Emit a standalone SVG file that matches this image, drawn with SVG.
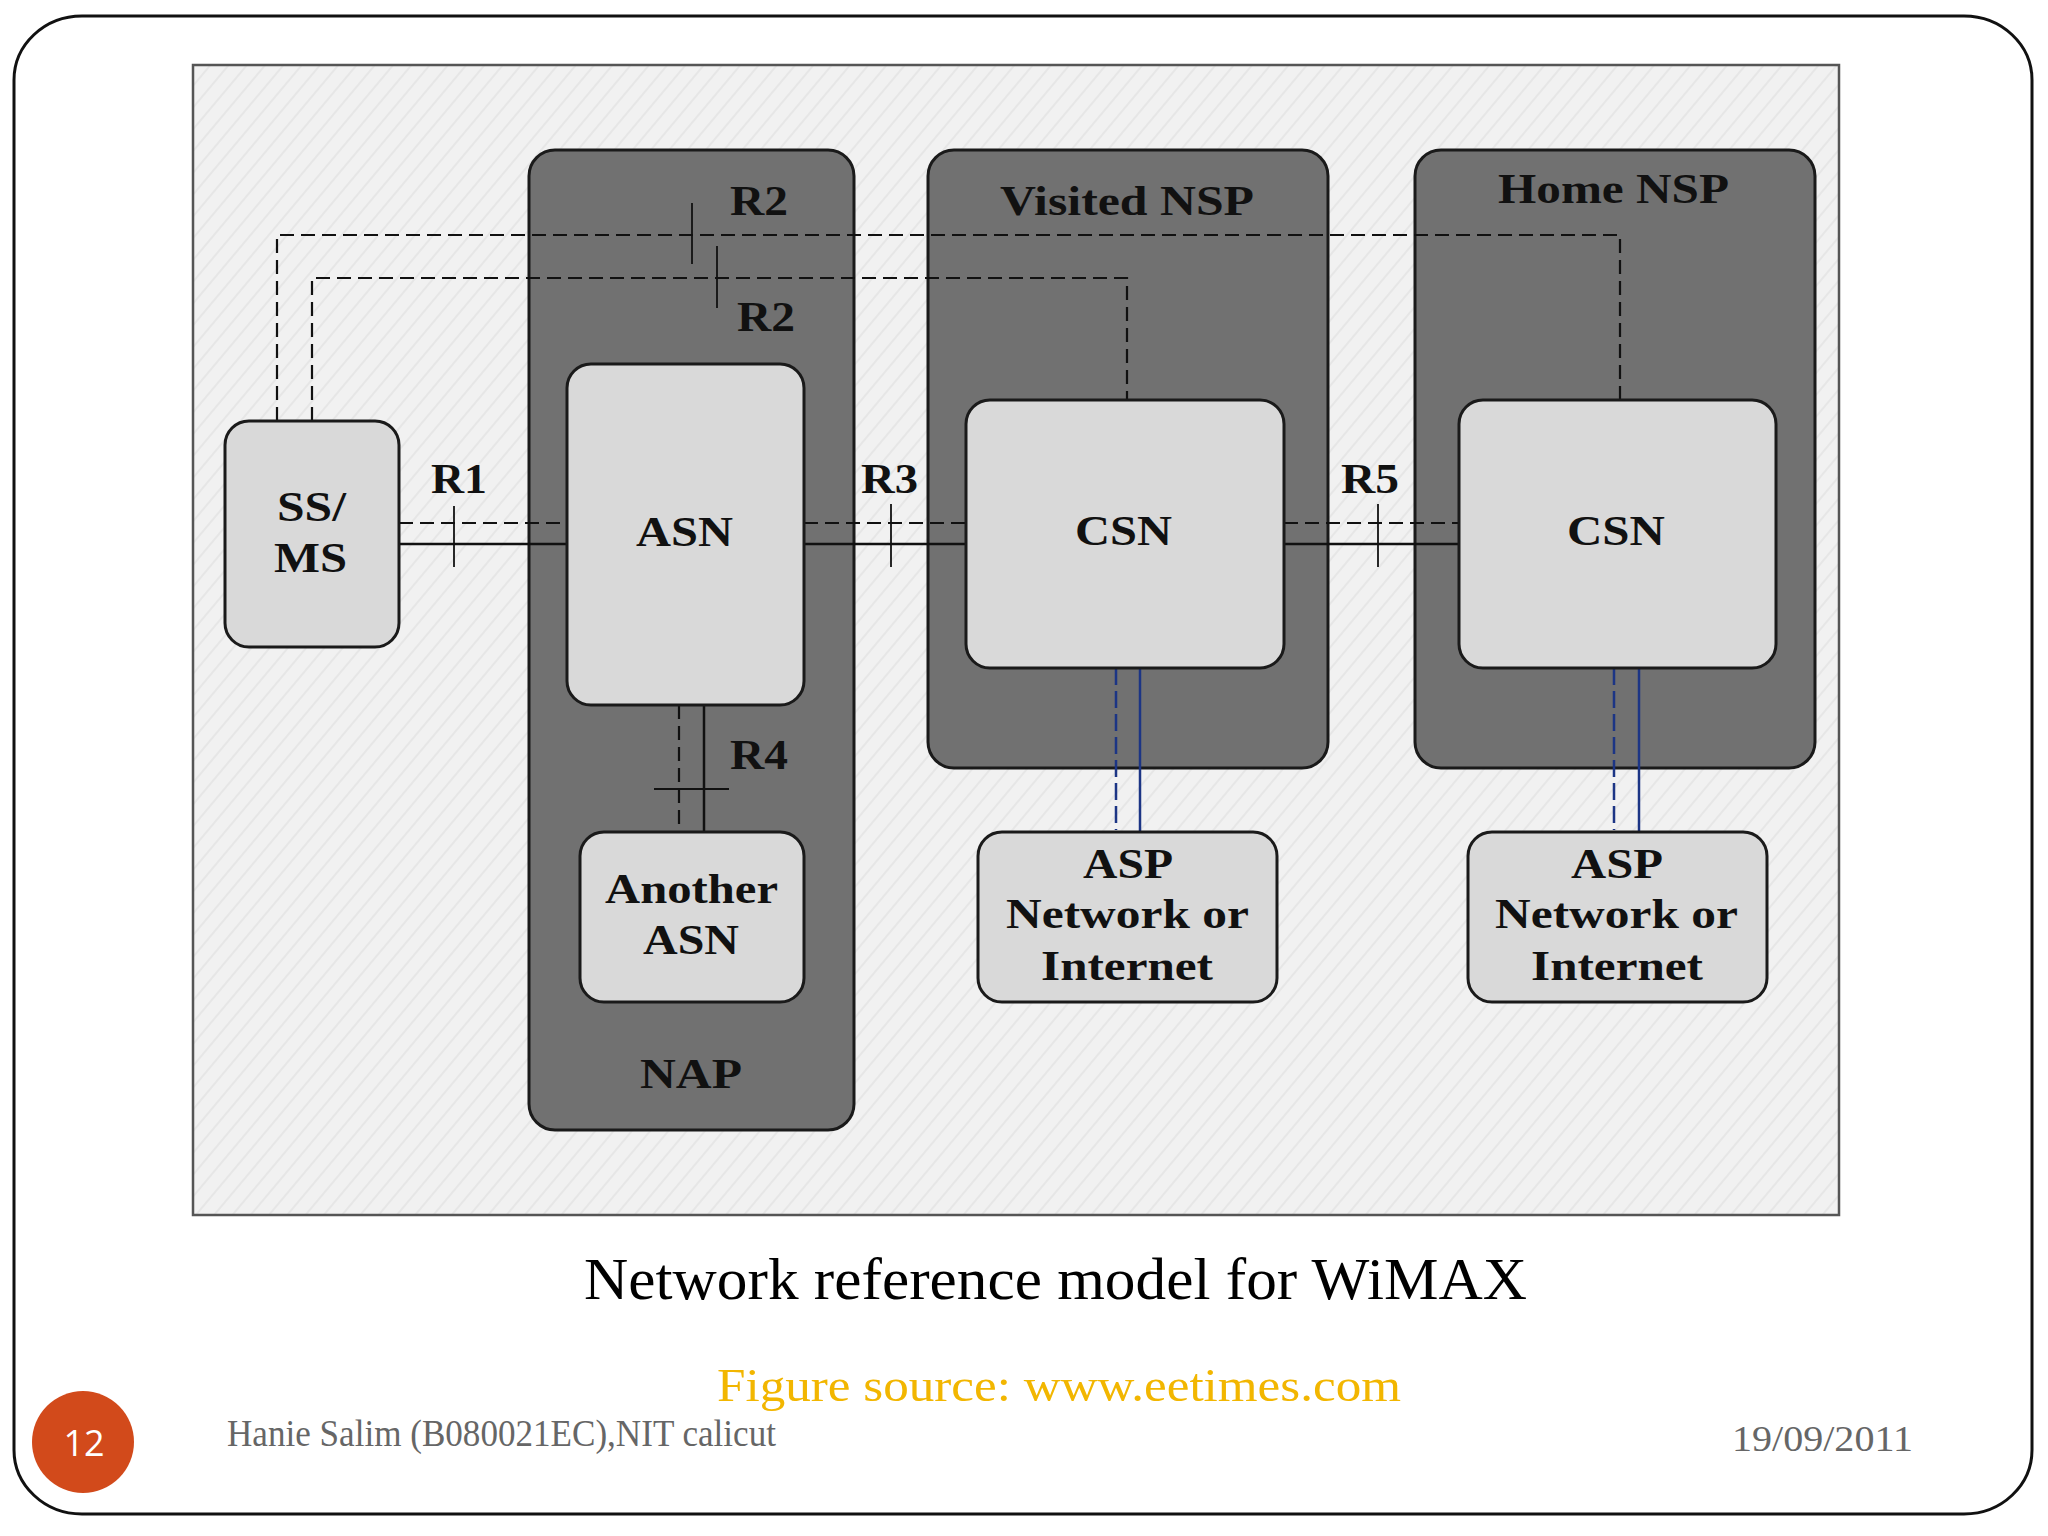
<svg xmlns="http://www.w3.org/2000/svg" width="2048" height="1536" viewBox="0 0 2048 1536">
<defs>
<pattern id="hatch" patternUnits="userSpaceOnUse" width="14" height="14" patternTransform="rotate(-50)">
<rect width="14" height="14" fill="#f1f1f1"/>
<line x1="0" y1="7" x2="14" y2="7" stroke="#e3e3e3" stroke-width="1.5"/>
</pattern>
<style>
.cont{fill:#717171;stroke:#1a1a1a;stroke-width:3}
.box{fill:#d9d9d9;stroke:#1a1a1a;stroke-width:3}
.lbl{font-family:"Liberation Serif","Times New Roman",serif;font-weight:bold;font-size:42px;fill:#111}
.solid{stroke:#111;stroke-width:2.5;fill:none}
.dash{stroke:#111;stroke-width:2.2;fill:none;stroke-dasharray:14 7}
.tick{stroke:#111;stroke-width:1.8;fill:none}
.bsolid{stroke:#1c3585;stroke-width:2.5;fill:none}
.bdash{stroke:#1c3585;stroke-width:2.5;fill:none;stroke-dasharray:17 6}
.foot{font-family:"Liberation Serif","Times New Roman",serif}
</style>
</defs>
<rect x="0" y="0" width="2048" height="1536" fill="#ffffff"/>
<rect id="frame" x="14" y="16" width="2018" height="1498" rx="68" ry="64" fill="#ffffff" stroke="#111" stroke-width="3"/>
<rect id="panel" x="193" y="65" width="1646" height="1150" fill="url(#hatch)" stroke="#555" stroke-width="2.5"/>

<g id="nap">
<rect class="cont" x="529" y="150" width="325" height="980" rx="26"/>
<text class="lbl" x="640" y="1088" textLength="102" lengthAdjust="spacingAndGlyphs">NAP</text>
</g>
<g id="visited-nsp">
<rect class="cont" x="928" y="150" width="400" height="618" rx="26"/>
<text class="lbl" x="1000" y="215" textLength="254" lengthAdjust="spacingAndGlyphs">Visited NSP</text>
</g>
<g id="home-nsp">
<rect class="cont" x="1415" y="150" width="400" height="618" rx="26"/>
<text class="lbl" x="1498" y="203" textLength="231" lengthAdjust="spacingAndGlyphs">Home NSP</text>
</g>

<g id="connectors">
<polyline class="dash" points="277,421 277,235 1620,235 1620,400"/>
<line class="tick" x1="692" y1="203" x2="692" y2="264"/>
<polyline class="dash" points="312,421 312,278 1127,278 1127,400"/>
<line class="tick" x1="717" y1="246" x2="717" y2="308"/>
<line class="dash" x1="399" y1="523" x2="567" y2="523"/>
<line class="solid" x1="399" y1="544" x2="567" y2="544"/>
<line class="tick" x1="454" y1="506" x2="454" y2="567"/>
<line class="dash" x1="804" y1="523" x2="972" y2="523"/>
<line class="solid" x1="804" y1="544" x2="966" y2="544"/>
<line class="tick" x1="891" y1="504" x2="891" y2="567"/>
<line class="dash" x1="1284" y1="523" x2="1459" y2="523"/>
<line class="solid" x1="1284" y1="544" x2="1459" y2="544"/>
<line class="tick" x1="1378" y1="504" x2="1378" y2="567"/>
<line class="dash" x1="679" y1="705" x2="679" y2="832"/>
<line class="solid" x1="704" y1="705" x2="704" y2="832"/>
<line class="tick" x1="654" y1="789" x2="729" y2="789"/>
<line class="bdash" x1="1116" y1="668" x2="1116" y2="830"/>
<line class="bsolid" x1="1140" y1="668" x2="1140" y2="834"/>
<line class="bdash" x1="1614" y1="668" x2="1614" y2="830"/>
<line class="bsolid" x1="1639" y1="668" x2="1639" y2="834"/>
<text class="lbl" x="730" y="215" textLength="58" lengthAdjust="spacingAndGlyphs">R2</text>
<text class="lbl" x="737" y="331" textLength="58" lengthAdjust="spacingAndGlyphs">R2</text>
<text class="lbl" x="431" y="493" textLength="56" lengthAdjust="spacingAndGlyphs">R1</text>
<text class="lbl" x="861" y="493" textLength="57" lengthAdjust="spacingAndGlyphs">R3</text>
<text class="lbl" x="1341" y="493" textLength="58" lengthAdjust="spacingAndGlyphs">R5</text>
<text class="lbl" x="730" y="769" textLength="58" lengthAdjust="spacingAndGlyphs">R4</text>
</g>

<g id="ss-ms">
<rect class="box" x="225" y="421" width="174" height="226" rx="24"/>
<text class="lbl" x="277" y="521" textLength="69" lengthAdjust="spacingAndGlyphs">SS/</text>
<text class="lbl" x="274" y="572" textLength="73" lengthAdjust="spacingAndGlyphs">MS</text>
</g>
<g id="asn">
<rect class="box" x="567" y="364" width="237" height="341" rx="24"/>
<text class="lbl" x="636" y="546" textLength="97" lengthAdjust="spacingAndGlyphs">ASN</text>
</g>
<g id="another-asn">
<rect class="box" x="580" y="832" width="224" height="170" rx="24"/>
<text class="lbl" x="605" y="903" textLength="173" lengthAdjust="spacingAndGlyphs">Another</text>
<text class="lbl" x="643" y="954" textLength="96" lengthAdjust="spacingAndGlyphs">ASN</text>
</g>
<g id="csn-visited">
<rect class="box" x="966" y="400" width="318" height="268" rx="24"/>
<text class="lbl" x="1075" y="545" textLength="97" lengthAdjust="spacingAndGlyphs">CSN</text>
</g>
<g id="csn-home">
<rect class="box" x="1459" y="400" width="317" height="268" rx="24"/>
<text class="lbl" x="1567" y="545" textLength="98" lengthAdjust="spacingAndGlyphs">CSN</text>
</g>
<g id="asp-visited">
<rect class="box" x="978" y="832" width="299" height="170" rx="24"/>
<text class="lbl" x="1083" y="878" textLength="90" lengthAdjust="spacingAndGlyphs">ASP</text>
<text class="lbl" x="1006" y="928" textLength="243" lengthAdjust="spacingAndGlyphs">Network or</text>
<text class="lbl" x="1041" y="980" textLength="172" lengthAdjust="spacingAndGlyphs">Internet</text>
</g>
<g id="asp-home">
<rect class="box" x="1468" y="832" width="299" height="170" rx="24"/>
<text class="lbl" x="1571" y="878" textLength="92" lengthAdjust="spacingAndGlyphs">ASP</text>
<text class="lbl" x="1495" y="928" textLength="243" lengthAdjust="spacingAndGlyphs">Network or</text>
<text class="lbl" x="1531" y="980" textLength="172" lengthAdjust="spacingAndGlyphs">Internet</text>
</g>

<g id="footer">
<text class="foot" x="584" y="1299" font-size="60" fill="#000" textLength="943" lengthAdjust="spacingAndGlyphs">Network reference model for WiMAX</text>
<text class="foot" x="717" y="1401" font-size="46" fill="#f2b600" textLength="684" lengthAdjust="spacingAndGlyphs">Figure source: www.eetimes.com</text>
<text class="foot" x="227" y="1446" font-size="37" fill="#666" textLength="549" lengthAdjust="spacingAndGlyphs">Hanie Salim (B080021EC),NIT calicut</text>
<text class="foot" x="1732" y="1451" font-size="35" fill="#666" textLength="181" lengthAdjust="spacingAndGlyphs">19/09/2011</text>
<circle cx="83" cy="1442" r="51" fill="#d24a1b"/>
<text x="84" y="1456" font-family="'Open Sans','Liberation Sans',sans-serif" font-size="36" fill="#ffffff" text-anchor="middle">12</text>
</g>
</svg>
